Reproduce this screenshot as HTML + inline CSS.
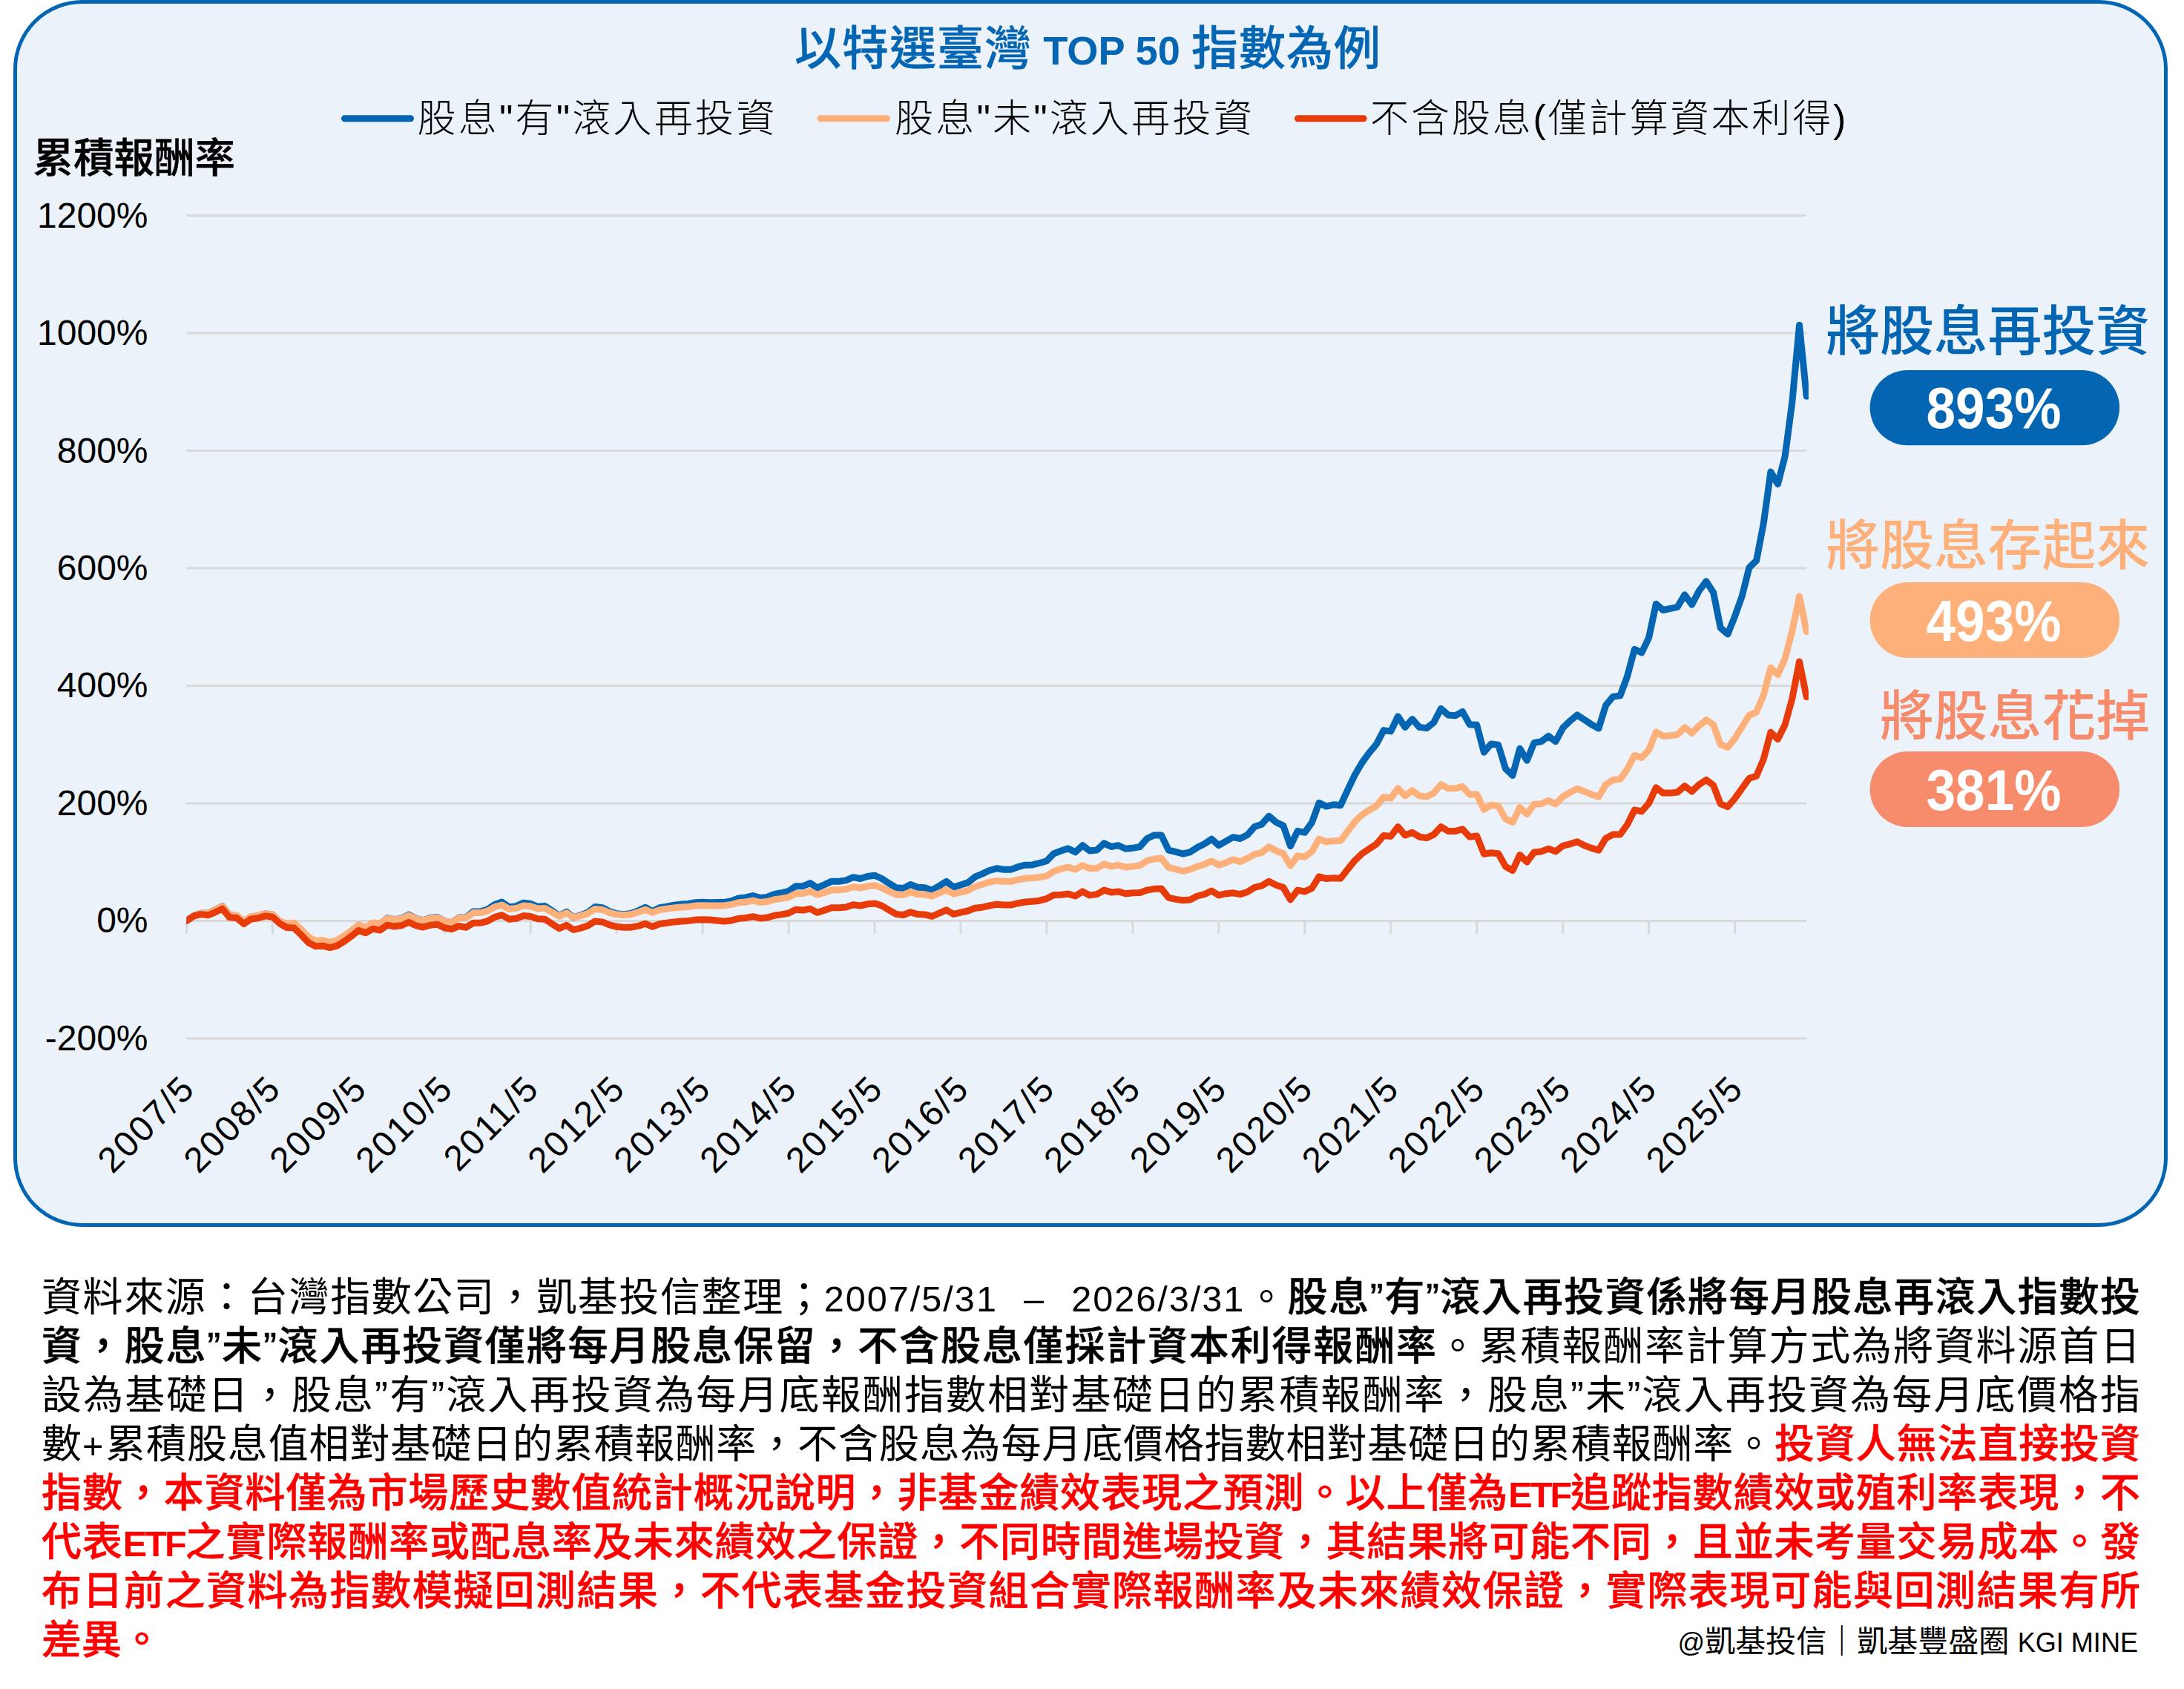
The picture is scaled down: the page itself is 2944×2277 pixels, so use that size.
<!DOCTYPE html>
<html lang="zh-Hant"><head><meta charset="utf-8"><title>以特選臺灣 TOP 50 指數為例</title>
<style>
html,body{margin:0;padding:0;background:#fff;}
body{width:2944px;height:2277px;position:relative;overflow:hidden;font-family:"Liberation Sans","Noto Sans CJK TC",sans-serif;color:#000;}
.panel{position:absolute;left:18.3px;top:0;width:2903.9px;height:1653.6px;box-sizing:border-box;border:5px solid #0465B3;border-radius:93px;background:#EBF2FA;}
.ax{font-family:"Liberation Sans",sans-serif;font-size:48px;fill:#000;}
.xl{letter-spacing:2.4px;}
.pill{font-family:"Liberation Sans",sans-serif;font-size:77px;font-weight:bold;fill:#fff;}
.t{position:absolute;white-space:nowrap;line-height:1;}
.title{left:0;width:2933px;text-align:center;top:34px;font-size:63px;letter-spacing:1px;font-weight:500;color:#0465B3;-webkit-text-stroke:0.4px #0465B3;}
.title span{font-size:86%;font-weight:700;letter-spacing:0;-webkit-text-stroke:0;}
.ylab{left:44.5px;top:187px;font-size:54.5px;font-weight:500;-webkit-text-stroke:0.5px #000;}
.lg{font-size:52px;letter-spacing:3.2px;font-weight:300;top:134px;}
.hd{font-size:72.8px;font-weight:500;right:46px;}
.foot{position:absolute;left:56px;top:1715.5px;width:2829px;font-size:54px;line-height:66px;font-weight:400;}
.fl{text-align:justify;text-align-last:justify;height:66px;white-space:nowrap;overflow:visible;}
.fl.last{text-align-last:left;}
.fl b{font-weight:500;-webkit-text-stroke:0.5px currentColor;}
.r, .r b{color:#FF0000;}
.l{font-size:90%;font-weight:400;letter-spacing:2px;word-spacing:18px;}
.e{font-size:90%;letter-spacing:-3px;font-weight:700;-webkit-text-stroke:0;}
.sig{right:62px;top:2192.5px;font-size:41px;font-weight:400;}
.sig .l{font-size:88%;letter-spacing:0;word-spacing:0;}
</style></head><body>
<div class="panel"></div>
<svg width="2944" height="1660" viewBox="0 0 2944 1660" style="position:absolute;left:0;top:0"><line x1="251.4" y1="290.5" x2="2435.2" y2="290.5" stroke="#D9D9D9" stroke-width="3"/><text x="199.5" y="306.5" text-anchor="end" class="ax">1200%</text><line x1="251.4" y1="449.0" x2="2435.2" y2="449.0" stroke="#D9D9D9" stroke-width="3"/><text x="199.5" y="465.0" text-anchor="end" class="ax">1000%</text><line x1="251.4" y1="607.5" x2="2435.2" y2="607.5" stroke="#D9D9D9" stroke-width="3"/><text x="199.5" y="623.5" text-anchor="end" class="ax">800%</text><line x1="251.4" y1="766.0" x2="2435.2" y2="766.0" stroke="#D9D9D9" stroke-width="3"/><text x="199.5" y="782.0" text-anchor="end" class="ax">600%</text><line x1="251.4" y1="924.4" x2="2435.2" y2="924.4" stroke="#D9D9D9" stroke-width="3"/><text x="199.5" y="940.4" text-anchor="end" class="ax">400%</text><line x1="251.4" y1="1082.9" x2="2435.2" y2="1082.9" stroke="#D9D9D9" stroke-width="3"/><text x="199.5" y="1098.9" text-anchor="end" class="ax">200%</text><line x1="251.4" y1="1241.4" x2="2435.2" y2="1241.4" stroke="#D9D9D9" stroke-width="3"/><text x="199.5" y="1257.4" text-anchor="end" class="ax">0%</text><line x1="251.4" y1="1399.9" x2="2435.2" y2="1399.9" stroke="#D9D9D9" stroke-width="3"/><text x="199.5" y="1415.9" text-anchor="end" class="ax">-200%</text><line x1="251.4" y1="1241.4" x2="251.4" y2="1259.4" stroke="#D9D9D9" stroke-width="3"/><text x="265.7" y="1469.8" text-anchor="end" class="ax xl" transform="rotate(-45 265.7 1469.8)">2007/5</text><line x1="367.4" y1="1241.4" x2="367.4" y2="1259.4" stroke="#D9D9D9" stroke-width="3"/><text x="381.7" y="1469.8" text-anchor="end" class="ax xl" transform="rotate(-45 381.7 1469.8)">2008/5</text><line x1="483.3" y1="1241.4" x2="483.3" y2="1259.4" stroke="#D9D9D9" stroke-width="3"/><text x="497.6" y="1469.8" text-anchor="end" class="ax xl" transform="rotate(-45 497.6 1469.8)">2009/5</text><line x1="599.3" y1="1241.4" x2="599.3" y2="1259.4" stroke="#D9D9D9" stroke-width="3"/><text x="613.6" y="1469.8" text-anchor="end" class="ax xl" transform="rotate(-45 613.6 1469.8)">2010/5</text><line x1="715.2" y1="1241.4" x2="715.2" y2="1259.4" stroke="#D9D9D9" stroke-width="3"/><text x="729.5" y="1469.8" text-anchor="end" class="ax xl" transform="rotate(-45 729.5 1469.8)">2011/5</text><line x1="831.2" y1="1241.4" x2="831.2" y2="1259.4" stroke="#D9D9D9" stroke-width="3"/><text x="845.5" y="1469.8" text-anchor="end" class="ax xl" transform="rotate(-45 845.5 1469.8)">2012/5</text><line x1="947.1" y1="1241.4" x2="947.1" y2="1259.4" stroke="#D9D9D9" stroke-width="3"/><text x="961.4" y="1469.8" text-anchor="end" class="ax xl" transform="rotate(-45 961.4 1469.8)">2013/5</text><line x1="1063.1" y1="1241.4" x2="1063.1" y2="1259.4" stroke="#D9D9D9" stroke-width="3"/><text x="1077.4" y="1469.8" text-anchor="end" class="ax xl" transform="rotate(-45 1077.4 1469.8)">2014/5</text><line x1="1179.0" y1="1241.4" x2="1179.0" y2="1259.4" stroke="#D9D9D9" stroke-width="3"/><text x="1193.3" y="1469.8" text-anchor="end" class="ax xl" transform="rotate(-45 1193.3 1469.8)">2015/5</text><line x1="1295.0" y1="1241.4" x2="1295.0" y2="1259.4" stroke="#D9D9D9" stroke-width="3"/><text x="1309.3" y="1469.8" text-anchor="end" class="ax xl" transform="rotate(-45 1309.3 1469.8)">2016/5</text><line x1="1410.9" y1="1241.4" x2="1410.9" y2="1259.4" stroke="#D9D9D9" stroke-width="3"/><text x="1425.2" y="1469.8" text-anchor="end" class="ax xl" transform="rotate(-45 1425.2 1469.8)">2017/5</text><line x1="1526.9" y1="1241.4" x2="1526.9" y2="1259.4" stroke="#D9D9D9" stroke-width="3"/><text x="1541.2" y="1469.8" text-anchor="end" class="ax xl" transform="rotate(-45 1541.2 1469.8)">2018/5</text><line x1="1642.8" y1="1241.4" x2="1642.8" y2="1259.4" stroke="#D9D9D9" stroke-width="3"/><text x="1657.1" y="1469.8" text-anchor="end" class="ax xl" transform="rotate(-45 1657.1 1469.8)">2019/5</text><line x1="1758.8" y1="1241.4" x2="1758.8" y2="1259.4" stroke="#D9D9D9" stroke-width="3"/><text x="1773.1" y="1469.8" text-anchor="end" class="ax xl" transform="rotate(-45 1773.1 1469.8)">2020/5</text><line x1="1874.8" y1="1241.4" x2="1874.8" y2="1259.4" stroke="#D9D9D9" stroke-width="3"/><text x="1889.1" y="1469.8" text-anchor="end" class="ax xl" transform="rotate(-45 1889.1 1469.8)">2021/5</text><line x1="1990.7" y1="1241.4" x2="1990.7" y2="1259.4" stroke="#D9D9D9" stroke-width="3"/><text x="2005.0" y="1469.8" text-anchor="end" class="ax xl" transform="rotate(-45 2005.0 1469.8)">2022/5</text><line x1="2106.7" y1="1241.4" x2="2106.7" y2="1259.4" stroke="#D9D9D9" stroke-width="3"/><text x="2121.0" y="1469.8" text-anchor="end" class="ax xl" transform="rotate(-45 2121.0 1469.8)">2023/5</text><line x1="2222.6" y1="1241.4" x2="2222.6" y2="1259.4" stroke="#D9D9D9" stroke-width="3"/><text x="2236.9" y="1469.8" text-anchor="end" class="ax xl" transform="rotate(-45 2236.9 1469.8)">2024/5</text><line x1="2338.6" y1="1241.4" x2="2338.6" y2="1259.4" stroke="#D9D9D9" stroke-width="3"/><text x="2352.9" y="1469.8" text-anchor="end" class="ax xl" transform="rotate(-45 2352.9 1469.8)">2025/5</text><defs><clipPath id="pc"><rect x="251.4" y="200" width="2186.5" height="1300"/></clipPath></defs><polyline fill="none" stroke="#0465B3" stroke-width="9" stroke-linejoin="round" stroke-linecap="round" clip-path="url(#pc)" points="251.4,1241.4 261.1,1235.0 270.7,1231.3 280.4,1231.3 290.1,1226.4 299.7,1221.7 309.4,1233.6 319.0,1234.4 328.7,1242.6 338.4,1235.9 348.0,1234.6 357.7,1231.7 367.4,1233.1 377.0,1242.2 386.7,1246.2 396.3,1244.8 406.0,1254.2 415.7,1265.5 425.3,1271.2 435.0,1270.6 444.7,1273.2 454.3,1270.4 464.0,1263.9 473.6,1256.2 483.3,1247.3 493.0,1251.2 502.6,1244.4 512.3,1245.6 522.0,1237.6 531.6,1239.7 541.3,1238.3 550.9,1233.1 560.6,1238.3 570.3,1240.7 579.9,1237.6 589.6,1236.6 599.3,1241.8 608.9,1243.8 618.6,1237.1 628.3,1236.9 637.9,1228.9 647.6,1228.9 657.2,1226.0 666.9,1219.4 676.6,1216.1 686.2,1222.7 695.9,1221.6 705.6,1217.2 715.2,1218.3 724.9,1222.3 734.5,1221.4 744.2,1227.8 753.9,1234.6 763.5,1229.4 773.2,1236.9 782.9,1233.9 792.5,1230.0 802.2,1222.5 811.8,1223.6 821.5,1228.7 831.2,1231.6 840.8,1232.8 850.5,1231.5 860.2,1227.9 869.8,1223.3 879.5,1228.5 889.1,1223.8 898.8,1222.1 908.5,1220.2 918.1,1219.1 927.8,1218.4 937.5,1216.7 947.1,1216.2 956.8,1216.7 966.4,1216.6 976.1,1216.5 985.8,1214.6 995.4,1210.9 1005.1,1209.9 1014.8,1207.5 1024.4,1210.4 1034.1,1209.4 1043.8,1205.5 1053.4,1203.8 1063.1,1201.4 1072.7,1194.8 1082.4,1194.7 1092.1,1190.6 1101.7,1196.9 1111.4,1192.7 1121.1,1188.2 1130.7,1188.2 1140.4,1186.9 1150.0,1182.7 1159.7,1184.5 1169.4,1181.5 1179.0,1180.2 1188.7,1184.5 1198.4,1190.9 1208.0,1196.8 1217.7,1197.6 1227.3,1192.4 1237.0,1196.3 1246.7,1196.8 1256.3,1200.2 1266.0,1194.3 1275.7,1188.3 1285.3,1196.1 1295.0,1193.0 1304.6,1189.9 1314.3,1182.2 1324.0,1178.1 1333.6,1173.5 1343.3,1170.8 1353.0,1172.2 1362.6,1172.2 1372.3,1168.7 1382.0,1166.2 1391.6,1165.9 1401.3,1163.5 1410.9,1160.7 1420.6,1150.7 1430.3,1147.0 1439.9,1143.9 1449.6,1148.8 1459.3,1139.7 1468.9,1147.0 1478.6,1146.1 1488.2,1136.9 1497.9,1141.5 1507.6,1139.7 1517.2,1144.2 1526.9,1143.3 1536.6,1141.5 1546.2,1130.5 1555.9,1125.9 1565.5,1125.9 1575.2,1146.1 1584.9,1148.3 1594.5,1151.0 1604.2,1148.8 1613.9,1142.4 1623.5,1137.8 1633.2,1131.1 1642.8,1139.7 1652.5,1134.2 1662.2,1128.7 1671.8,1130.5 1681.5,1125.6 1691.2,1114.6 1700.8,1111.3 1710.5,1100.3 1720.2,1108.5 1729.8,1113.1 1739.5,1140.6 1749.1,1120.4 1758.8,1122.3 1768.5,1108.6 1778.1,1082.4 1787.8,1087.1 1797.5,1084.8 1807.1,1085.7 1816.8,1064.6 1826.4,1044.5 1836.1,1028.0 1845.8,1014.6 1855.4,1003.3 1865.1,984.6 1874.8,985.9 1884.4,965.7 1894.1,980.4 1903.7,969.4 1913.4,980.4 1923.1,981.6 1932.7,974.0 1942.4,955.3 1952.1,963.9 1961.7,964.8 1971.4,959.3 1981.0,976.7 1990.7,977.3 2000.4,1014.2 2010.0,1002.9 2019.7,1004.2 2029.4,1036.2 2039.0,1045.4 2048.7,1009.1 2058.3,1025.2 2068.0,1001.4 2077.7,999.6 2087.3,992.3 2097.0,999.6 2106.7,981.3 2116.3,972.1 2126.0,963.9 2135.7,970.3 2145.3,976.7 2155.0,982.0 2164.6,950.9 2174.3,939.1 2184.0,937.9 2193.6,911.6 2203.3,875.3 2213.0,879.9 2222.6,859.8 2232.3,814.2 2241.9,822.5 2251.6,820.4 2261.3,818.3 2270.9,801.8 2280.6,815.2 2290.3,796.6 2299.9,783.7 2309.6,798.6 2319.2,846.3 2328.9,855.0 2338.6,830.8 2348.2,803.8 2357.9,765.2 2367.6,755.8 2377.2,706.0 2386.9,636.1 2396.5,652.7 2406.2,614.8 2415.9,541.3 2425.5,438.3 2435.2,534.2"/><polyline fill="none" stroke="#FDB07A" stroke-width="9" stroke-linejoin="round" stroke-linecap="round" clip-path="url(#pc)" points="251.4,1241.4 261.1,1234.9 270.7,1231.2 280.4,1231.2 290.1,1226.5 299.7,1221.9 309.4,1233.5 319.0,1234.2 328.7,1242.1 338.4,1235.7 348.0,1234.4 357.7,1231.6 367.4,1232.9 377.0,1241.7 386.7,1245.5 396.3,1244.2 406.0,1252.9 415.7,1263.2 425.3,1268.3 435.0,1267.7 444.7,1270.1 454.3,1267.6 464.0,1261.7 473.6,1254.7 483.3,1246.7 493.0,1250.2 502.6,1244.0 512.3,1245.1 522.0,1238.0 531.6,1239.8 541.3,1238.6 550.9,1234.0 560.6,1238.6 570.3,1240.8 579.9,1238.0 589.6,1237.1 599.3,1241.7 608.9,1243.5 618.6,1237.5 628.3,1237.4 637.9,1230.6 647.6,1230.6 657.2,1228.2 666.9,1222.7 676.6,1220.0 686.2,1225.5 695.9,1224.6 705.6,1220.9 715.2,1221.8 724.9,1225.1 734.5,1224.4 744.2,1229.7 753.9,1235.1 763.5,1230.9 773.2,1237.0 782.9,1234.6 792.5,1231.5 802.2,1225.4 811.8,1226.4 821.5,1230.4 831.2,1232.8 840.8,1233.7 850.5,1232.7 860.2,1229.9 869.8,1226.2 879.5,1230.3 889.1,1226.6 898.8,1225.3 908.5,1223.9 918.1,1222.9 927.8,1222.4 937.5,1221.1 947.1,1220.7 956.8,1221.1 966.4,1221.0 976.1,1220.9 985.8,1219.5 995.4,1216.8 1005.1,1216.0 1014.8,1214.2 1024.4,1216.4 1034.1,1215.6 1043.8,1212.7 1053.4,1211.4 1063.1,1209.6 1072.7,1204.7 1082.4,1204.6 1092.1,1201.6 1101.7,1206.2 1111.4,1203.1 1121.1,1199.8 1130.7,1199.8 1140.4,1198.8 1150.0,1195.7 1159.7,1197.0 1169.4,1194.8 1179.0,1193.8 1188.7,1196.9 1198.4,1201.6 1208.0,1205.9 1217.7,1206.3 1227.3,1202.7 1237.0,1205.4 1246.7,1205.8 1256.3,1208.1 1266.0,1203.9 1275.7,1199.7 1285.3,1205.1 1295.0,1202.9 1304.6,1200.7 1314.3,1195.2 1324.0,1192.3 1333.6,1189.2 1343.3,1187.4 1353.0,1188.3 1362.6,1188.3 1372.3,1185.9 1382.0,1184.2 1391.6,1183.6 1401.3,1182.7 1410.9,1180.9 1420.6,1174.5 1430.3,1171.4 1439.9,1169.0 1449.6,1172.1 1459.3,1166.8 1468.9,1170.8 1478.6,1170.8 1488.2,1164.8 1497.9,1168.1 1507.6,1166.2 1517.2,1169.0 1526.9,1168.1 1536.6,1166.8 1546.2,1160.4 1555.9,1158.0 1565.5,1157.1 1575.2,1169.5 1584.9,1171.7 1594.5,1174.5 1604.2,1172.1 1613.9,1168.1 1623.5,1165.3 1633.2,1160.7 1642.8,1166.2 1652.5,1162.9 1662.2,1158.9 1671.8,1161.6 1681.5,1157.1 1691.2,1151.6 1700.8,1149.4 1710.5,1141.5 1720.2,1147.0 1729.8,1150.7 1739.5,1167.1 1749.1,1153.8 1758.8,1155.2 1768.5,1147.9 1778.1,1131.1 1787.8,1134.8 1797.5,1133.7 1807.1,1133.3 1816.8,1120.5 1826.4,1107.7 1836.1,1098.5 1845.8,1092.1 1855.4,1086.6 1865.1,1074.7 1874.8,1076.0 1884.4,1062.8 1894.1,1072.9 1903.7,1065.9 1913.4,1072.9 1923.1,1074.1 1932.7,1069.2 1942.4,1057.7 1952.1,1062.8 1961.7,1062.8 1971.4,1060.4 1981.0,1071.0 1990.7,1071.0 2000.4,1091.2 2010.0,1085.3 2019.7,1086.6 2029.4,1104.0 2039.0,1108.6 2048.7,1088.4 2058.3,1097.6 2068.0,1084.2 2077.7,1083.8 2087.3,1079.3 2097.0,1083.8 2106.7,1073.8 2116.3,1068.3 2126.0,1063.3 2135.7,1067.0 2145.3,1071.0 2155.0,1074.2 2164.6,1057.7 2174.3,1051.4 2184.0,1050.4 2193.6,1036.9 2203.3,1018.3 2213.0,1021.4 2222.6,1011.0 2232.3,986.8 2241.9,992.4 2251.6,991.8 2261.3,990.3 2270.9,980.6 2280.6,988.2 2290.3,978.5 2299.9,970.6 2309.6,976.9 2319.2,1003.8 2328.9,1007.5 2338.6,995.5 2348.2,980.0 2357.9,964.4 2367.6,959.9 2377.2,937.5 2386.9,900.2 2396.5,909.5 2406.2,887.7 2415.9,850.5 2425.5,803.8 2435.2,851.5"/><polyline fill="none" stroke="#E73C09" stroke-width="9" stroke-linejoin="round" stroke-linecap="round" clip-path="url(#pc)" points="251.4,1241.4 261.1,1234.9 270.7,1232.6 280.4,1233.8 290.1,1229.8 299.7,1225.2 309.4,1236.8 319.0,1237.5 328.7,1245.4 338.4,1239.0 348.0,1237.7 357.7,1234.9 367.4,1236.2 377.0,1245.0 386.7,1250.5 396.3,1250.9 406.0,1260.4 415.7,1270.7 425.3,1275.8 435.0,1275.2 444.7,1277.6 454.3,1275.1 464.0,1269.2 473.6,1262.2 483.3,1254.2 493.0,1257.7 502.6,1252.2 512.3,1254.0 522.0,1247.2 531.6,1249.0 541.3,1247.8 550.9,1243.2 560.6,1247.8 570.3,1250.0 579.9,1247.2 589.6,1246.3 599.3,1250.9 608.9,1252.7 618.6,1248.5 628.3,1250.2 637.9,1244.3 647.6,1244.3 657.2,1241.9 666.9,1236.4 676.6,1233.7 686.2,1239.2 695.9,1238.3 705.6,1234.6 715.2,1235.5 724.9,1238.8 734.5,1239.2 744.2,1245.6 753.9,1251.6 763.5,1247.4 773.2,1253.5 782.9,1251.1 792.5,1248.0 802.2,1241.9 811.8,1242.9 821.5,1246.9 831.2,1249.3 840.8,1250.2 850.5,1250.2 860.2,1248.4 869.8,1245.2 879.5,1249.3 889.1,1245.6 898.8,1244.3 908.5,1242.9 918.1,1241.9 927.8,1241.4 937.5,1240.1 947.1,1239.7 956.8,1240.1 966.4,1241.0 976.1,1241.9 985.8,1241.0 995.4,1238.3 1005.1,1237.5 1014.8,1235.7 1024.4,1237.9 1034.1,1237.1 1043.8,1234.2 1053.4,1232.9 1063.1,1231.1 1072.7,1226.2 1082.4,1227.1 1092.1,1225.1 1101.7,1230.2 1111.4,1227.1 1121.1,1223.8 1130.7,1223.8 1140.4,1222.9 1150.0,1219.7 1159.7,1221.0 1169.4,1218.8 1179.0,1217.9 1188.7,1221.0 1198.4,1226.9 1208.0,1232.4 1217.7,1233.5 1227.3,1229.8 1237.0,1232.6 1246.7,1232.9 1256.3,1235.3 1266.0,1231.1 1275.7,1226.9 1285.3,1232.4 1295.0,1230.2 1304.6,1228.0 1314.3,1224.3 1324.0,1223.2 1333.6,1221.0 1343.3,1219.2 1353.0,1220.1 1362.6,1220.1 1372.3,1217.7 1382.0,1216.0 1391.6,1215.3 1401.3,1214.2 1410.9,1211.6 1420.6,1206.5 1430.3,1206.2 1439.9,1205.1 1449.6,1208.0 1459.3,1201.9 1468.9,1206.9 1478.6,1205.6 1488.2,1200.1 1497.9,1202.9 1507.6,1201.9 1517.2,1204.7 1526.9,1203.8 1536.6,1203.4 1546.2,1200.1 1555.9,1198.3 1565.5,1197.9 1575.2,1210.2 1584.9,1212.4 1594.5,1213.8 1604.2,1212.9 1613.9,1208.0 1623.5,1205.6 1633.2,1201.0 1642.8,1206.9 1652.5,1204.7 1662.2,1203.8 1671.8,1205.6 1681.5,1202.5 1691.2,1196.4 1700.8,1194.2 1710.5,1188.2 1720.2,1193.3 1729.8,1196.4 1739.5,1212.9 1749.1,1200.1 1758.8,1201.9 1768.5,1197.4 1778.1,1181.8 1787.8,1184.6 1797.5,1183.7 1807.1,1184.2 1816.8,1171.8 1826.4,1159.9 1836.1,1150.7 1845.8,1144.3 1855.4,1137.9 1865.1,1126.5 1874.8,1127.4 1884.4,1114.6 1894.1,1126.0 1903.7,1122.3 1913.4,1128.2 1923.1,1129.6 1932.7,1125.1 1942.4,1114.6 1952.1,1120.5 1961.7,1120.5 1971.4,1117.7 1981.0,1128.2 1990.7,1126.9 2000.4,1151.2 2010.0,1149.8 2019.7,1150.7 2029.4,1168.1 2039.0,1173.6 2048.7,1152.5 2058.3,1162.2 2068.0,1148.9 2077.7,1147.9 2087.3,1144.3 2097.0,1147.9 2106.7,1140.3 2116.3,1137.9 2126.0,1134.8 2135.7,1139.7 2145.3,1143.4 2155.0,1146.1 2164.6,1130.2 2174.3,1125.0 2184.0,1125.0 2193.6,1111.5 2203.3,1091.9 2213.0,1093.9 2222.6,1082.9 2232.3,1061.8 2241.9,1069.1 2251.6,1069.1 2261.3,1068.0 2270.9,1059.7 2280.6,1067.0 2290.3,1057.7 2299.9,1051.4 2309.6,1058.7 2319.2,1083.6 2328.9,1087.7 2338.6,1076.3 2348.2,1062.8 2357.9,1049.4 2367.6,1046.3 2377.2,1023.5 2386.9,987.2 2396.5,996.5 2406.2,976.9 2415.9,941.6 2425.5,891.9 2435.2,939.6"/><line x1="464.5" y1="159.8" x2="553.5" y2="159.8" stroke="#0465B3" stroke-width="9" stroke-linecap="round"/><line x1="1106.1" y1="159.8" x2="1195.5" y2="159.8" stroke="#FDB07A" stroke-width="9" stroke-linecap="round"/><line x1="1749.5" y1="159.8" x2="1838.1" y2="159.8" stroke="#E73C09" stroke-width="9" stroke-linecap="round"/><rect x="2520.6" y="498.9" width="336.5" height="101.4" rx="50.7" fill="#0465B3"/><text x="2596.5" y="576.9" textLength="182" lengthAdjust="spacingAndGlyphs" class="pill">893%</text><rect x="2520.6" y="785" width="336.5" height="102.0" rx="51.0" fill="#FDB07A"/><text x="2596.5" y="863.6" textLength="182" lengthAdjust="spacingAndGlyphs" class="pill">493%</text><rect x="2520.6" y="1013" width="336.5" height="102.0" rx="51.0" fill="#F68C6C"/><text x="2596.5" y="1091.6" textLength="182" lengthAdjust="spacingAndGlyphs" class="pill">381%</text></svg>
<div class="t title">以特選臺灣<span> TOP 50 </span>指數為例</div>
<div class="t ylab">累積報酬率</div>
<div class="t lg" style="left:562.5px">股息"有"滾入再投資</div>
<div class="t lg" style="left:1206px">股息"未"滾入再投資</div>
<div class="t lg" style="left:1847px;letter-spacing:2.9px">不含股息(僅計算資本利得)</div>
<div class="t hd" style="top:411px;color:#0465B3">將股息再投資</div>
<div class="t hd" style="top:700px;color:#FDB07A">將股息存起來</div>
<div class="t hd" style="top:930px;color:#F68C6C">將股息花掉</div>
<div class="foot">
<div class="fl k">資料來源：台灣指數公司，凱基投信整理；<span class="l">2007/5/31 – 2026/3/31</span>。<b>股息”有”滾入再投資係將每月股息再滾入指數投</b></div>
<div class="fl k"><b>資，股息”未”滾入再投資僅將每月股息保留，不含股息僅採計資本利得報酬率</b>。累積報酬率計算方式為將資料源首日</div>
<div class="fl k">設為基礎日，股息”有”滾入再投資為每月底報酬指數相對基礎日的累積報酬率，股息”未”滾入再投資為每月底價格指</div>
<div class="fl k">數<span class="l">+</span>累積股息值相對基礎日的累積報酬率，不含股息為每月底價格指數相對基礎日的累積報酬率。<b class="r">投資人無法直接投資</b></div>
<div class="fl r"><b>指數，本資料僅為市場歷史數值統計概況說明，非基金績效表現之預測。以上僅為<span class="e">ETF</span>追蹤指數績效或殖利率表現，不</b></div>
<div class="fl r"><b>代表<span class="e">ETF</span>之實際報酬率或配息率及未來績效之保證，不同時間進場投資，其結果將可能不同，且並未考量交易成本。發</b></div>
<div class="fl r"><b>布日前之資料為指數模擬回測結果，不代表基金投資組合實際報酬率及未來績效保證，實際表現可能與回測結果有所</b></div>
<div class="fl r last"><b>差異。</b></div>
</div>
<div class="t sig"><span class="l">@</span>凱基投信<span style="font-weight:700">｜</span>凱基豐盛圈 <span class="l">KGI MINE</span></div>
</body></html>
